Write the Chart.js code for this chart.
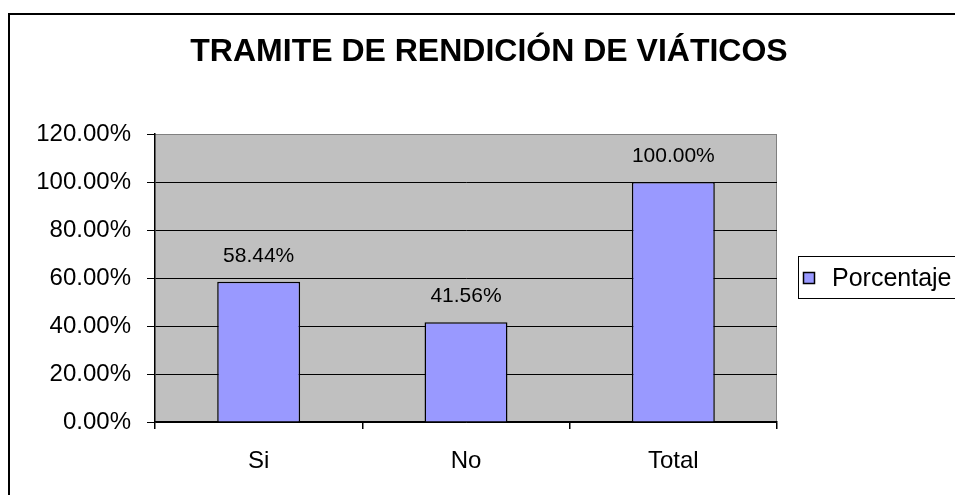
<!DOCTYPE html>
<html lang="es">
<head>
<meta charset="utf-8">
<title>Tramite de rendición de viáticos</title>
<script src="https://cdn.jsdelivr.net/npm/chart.js@4.4.1/dist/chart.umd.min.js"></script>
<style>
  html, body { margin: 0; padding: 0; background: #fff; }
  #grafico { display: block; }
</style>
</head>
<body>
<canvas id="grafico" width="955" height="495"></canvas>
<script>
// datos del gráfico
const categorias = ['Si', 'No', 'Total'];
const porcentajes = [58.44, 41.56, 100];
const ticksY = [0, 20, 40, 60, 80, 100, 120];
const titulo = 'TRAMITE DE RENDICIÓN DE VIÁTICOS';
const serie = 'Porcentaje';

const FUENTE = '"Liberation Sans", Arial, Helvetica, sans-serif';
const COLOR_BARRA = '#9999FF';

// marco exterior, fondo gris del área de trazado y título
const marco = {
  id: 'marco',
  beforeDraw(chart) {
    const { ctx, chartArea: a } = chart;
    ctx.save();
    ctx.fillStyle = '#fff';
    ctx.fillRect(0, 0, chart.width, chart.height);
    ctx.strokeStyle = '#000';
    ctx.lineWidth = 2;
    ctx.strokeRect(9, 14, chart.width + 20, chart.height + 20);

    ctx.fillStyle = '#C0C0C0';
    ctx.fillRect(a.left, a.top, a.right - a.left, a.bottom - a.top);
    ctx.strokeStyle = '#808080';
    ctx.lineWidth = 1;
    ctx.beginPath();
    ctx.moveTo(a.left, a.top + 0.5);
    ctx.lineTo(a.right - 0.5, a.top + 0.5);
    ctx.lineTo(a.right - 0.5, a.bottom);
    ctx.stroke();

    ctx.fillStyle = '#000';
    ctx.font = 'bold 32px ' + FUENTE;
    ctx.textAlign = 'center';
    ctx.textBaseline = 'middle';
    ctx.fillText(titulo, 489, 52);
    ctx.restore();
  }
};

// valores encima de cada barra
const etiquetas = {
  id: 'etiquetas',
  afterDatasetsDraw(chart) {
    const { ctx } = chart;
    const meta = chart.getDatasetMeta(0);
    ctx.save();
    ctx.fillStyle = '#000';
    ctx.font = '21px ' + FUENTE;
    ctx.textAlign = 'center';
    ctx.textBaseline = 'middle';
    meta.data.forEach((barra, i) => {
      ctx.fillText(porcentajes[i].toFixed(2) + '%', barra.x, barra.y - 26);
    });
    ctx.restore();
  }
};

// leyenda con recuadro a la derecha
const leyenda = {
  id: 'leyenda',
  afterDraw(chart) {
    const { ctx, chartArea: a } = chart;
    const x = a.right + 21;
    const yc = (a.top + a.bottom) / 2;
    ctx.save();
    ctx.fillStyle = '#fff';
    ctx.fillRect(x, yc - 21, 200, 42);
    ctx.strokeStyle = '#000';
    ctx.lineWidth = 1;
    ctx.strokeRect(x + 0.5, yc - 21.5, 200, 42);
    ctx.fillStyle = COLOR_BARRA;
    ctx.fillRect(x + 6, yc - 5, 10, 10);
    ctx.lineWidth = 1.5;
    ctx.strokeRect(x + 5.5, yc - 5.5, 11, 11);
    ctx.fillStyle = '#000';
    ctx.font = '25px ' + FUENTE;
    ctx.textAlign = 'left';
    ctx.textBaseline = 'middle';
    ctx.fillText(serie, x + 34, yc + 1);
    ctx.restore();
  }
};

new Chart(document.getElementById('grafico'), {
  type: 'bar',
  data: {
    labels: categorias,
    datasets: [{
      label: serie,
      data: porcentajes,
      backgroundColor: COLOR_BARRA,
      borderColor: '#000',
      borderWidth: 1.5,
      barPercentage: 0.4,
      categoryPercentage: 1
    }]
  },
  options: {
    responsive: false,
    animation: false,
    events: [],
    layout: { padding: { top: 134, left: 0, right: 178, bottom: 0 } },
    plugins: {
      legend: { display: false },
      title: { display: false },
      tooltip: { enabled: false }
    },
    scales: {
      x: {
        afterFit: s => { s.height = 73; },
        border: { color: '#000', width: 1.5 },
        grid: {
          offset: true,
          drawOnChartArea: false,
          color: '#000',
          tickLength: 7,
          lineWidth: 1.5
        },
        ticks: {
          color: '#000',
          padding: 18,
          font: { family: FUENTE, size: 24 }
        }
      },
      y: {
        min: 0,
        max: 120,
        afterFit: s => { s.width = 155; },
        afterBuildTicks: s => { s.ticks = ticksY.map(v => ({ value: v })); },
        border: { color: '#000', width: 1.5 },
        grid: {
          color: c => (c.tick && c.tick.value === 120 ? '#808080' : '#000'),
          tickColor: '#000',
          tickLength: 8
        },
        ticks: {
          color: '#000',
          padding: 16,
          font: { family: FUENTE, size: 24 },
          callback: v => Number(v).toFixed(2) + '%'
        }
      }
    }
  },
  plugins: [marco, etiquetas, leyenda]
});
</script>
</body>
</html>
